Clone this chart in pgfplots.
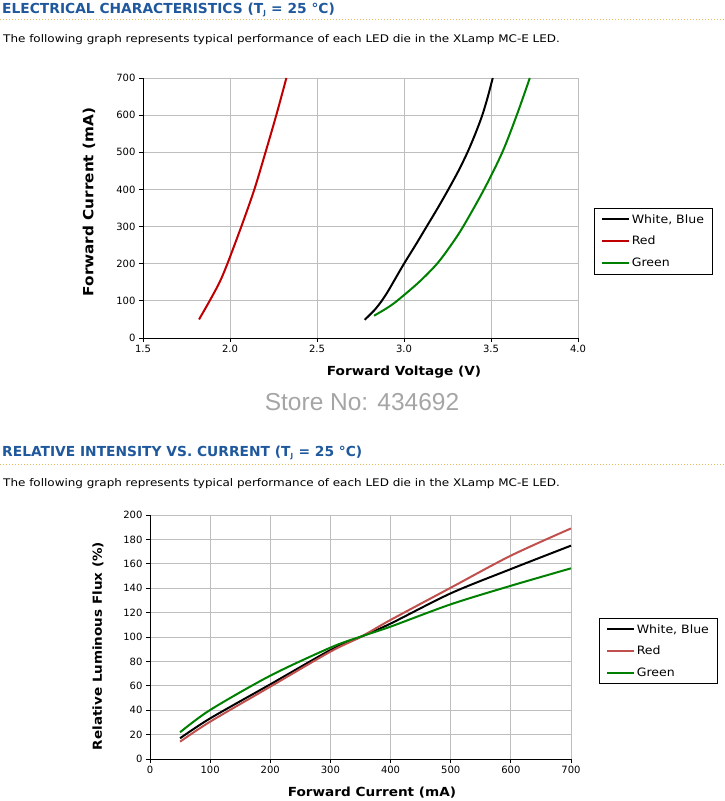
\documentclass[border=0pt]{standalone}
\usepackage{pgfplots}
\pgfplotsset{compat=1.18}
\usepackage{fontspec}
\setmainfont{DejaVu Sans}
\newfontfamily\wideA[FakeStretch=1.14]{DejaVu Sans}
\newfontfamily\wideB[FakeStretch=1.09]{DejaVu Sans}
\newfontfamily\arialfont{Liberation Sans}
\definecolor{headblue}{RGB}{31,88,156}
\definecolor{dotgold}{RGB}{226,186,90}
\definecolor{redA}{RGB}{192,0,0}
\definecolor{redB}{RGB}{192,80,77}
\definecolor{greenA}{RGB}{0,128,0}
\definecolor{gridgray}{RGB}{190,190,190}
\pgfplotsset{
  mystyle/.style={
    scale only axis,
    anchor=south west,
    axis x line*=bottom, axis y line*=left,
    axis line style={black, line width=1pt},
    tick align=outside,
    major tick length=4pt,
    tick style={black, line width=0.8pt},
    grid=major,
    major grid style={gridgray, line width=0.8pt},
    ticklabel style={font=\fontsize{10}{12}\selectfont},
    /pgf/number format/assume math mode=true,
    legend cell align=left,
    legend style={draw=black, line width=0.6pt, font=\wideB\fontsize{11.5}{12}\selectfont, anchor=north west, inner xsep=7pt, inner ysep=4.5pt, row sep=8.5pt, nodes={inner sep=1.5pt}, /tikz/every even column/.append style={column sep=0pt}},
    legend image code/.code={\draw[#1, line width=2pt] (0pt,0pt) -- (27pt,0pt);},
    clip=false,
  }
}
\begin{document}
\begin{tikzpicture}
\path[use as bounding box] (0,0) rectangle (724pt,-801pt);
% ---------- Section 1 header ----------
\node[anchor=west, text=headblue, font=\fontsize{13.8}{15}\selectfont\bfseries, inner sep=0pt] at (2pt,-10pt) {ELECTRICAL CHARACTERISTICS (T\textsubscript{\fontsize{7}{8}\selectfont J} = 25 \textdegree C)};
\draw[dotgold, line width=1pt, dash pattern=on 1pt off 2pt] (0pt,-19pt) -- (724pt,-19pt);
\node[anchor=west, font=\wideA\fontsize{10.5}{12}\selectfont, inner sep=0pt] at (3pt,-40pt) {The following graph represents typical performance of each LED die in the XLamp MC-E LED.};
% ---------- Chart 1 ----------
\begin{axis}[mystyle,
  at={(143pt,-338pt)}, width=435pt, height=260pt,
  xmin=1.5, xmax=4, ymin=0, ymax=700,
  xtick={1.5,2,2.5,3,3.5,4}, ytick={0,100,...,700},
  xticklabel style={/pgf/number format/.cd, fixed, fixed zerofill, precision=1},
  legend style={at={(axis description cs:1.0368,0.5)}},
]
\addplot[black, line width=2pt, smooth] coordinates {(2.774,49)(2.83,75)(2.872,100)(2.907,125)(2.938,150)(3.0,200)(3.066,250)(3.13,300)(3.194,350)(3.255,400)(3.313,450)(3.365,500)(3.41,550)(3.45,600)(3.482,650)(3.51,700)};
\addlegendentry{White, Blue}
\addplot[redA, line width=2pt, smooth] coordinates {(1.822,50)(1.883,100)(1.94,150)(1.985,200)(2.065,300)(2.14,400)(2.204,500)(2.266,600)(2.324,700)};
\addlegendentry{Red}
\addplot[greenA, line width=2pt, smooth] coordinates {(2.828,60)(2.90,80)(2.96,100)(3.085,150)(3.19,200)(3.27,250)(3.34,300)(3.46,400)(3.565,500)(3.648,600)(3.723,700)};
\addlegendentry{Green}
\end{axis}
\node[rotate=90, font=\wideB\fontsize{14}{16}\selectfont\bfseries] at (89pt,-202pt) {Forward Current (mA)};
\node[font=\wideB\fontsize{12.5}{14}\selectfont\bfseries] at (404pt,-372pt) {Forward Voltage (V)};
% watermark
\node[text={rgb,255:red,165;green,165;blue,165}, font=\arialfont\fontsize{24.5}{27}\selectfont] at (362pt,-402pt) {Store No: 434692};
% ---------- Section 2 header ----------
\node[anchor=west, text=headblue, font=\fontsize{13.8}{15}\selectfont\bfseries, inner sep=0pt] at (2pt,-453pt) {RELATIVE INTENSITY VS. CURRENT (T\textsubscript{\fontsize{7}{8}\selectfont J} = 25 \textdegree C)};
\draw[dotgold, line width=1pt, dash pattern=on 1pt off 2pt] (0pt,-464pt) -- (724pt,-464pt);
\node[anchor=west, font=\wideA\fontsize{10.5}{12}\selectfont, inner sep=0pt] at (3pt,-484pt) {The following graph represents typical performance of each LED die in the XLamp MC-E LED.};
% ---------- Chart 2 ----------
\begin{axis}[mystyle,
  at={(150pt,-759pt)}, width=421pt, height=244pt,
  xmin=0, xmax=700, ymin=0, ymax=200,
  xtick={0,100,...,700}, ytick={0,20,...,200},
  legend style={at={(axis description cs:1.0665,0.578)}},
]
\addplot[black, line width=2pt, smooth] coordinates {(50,17)(100,33.3)(200,61.2)(300,89.3)(350,100)(400,111)(500,135.8)(600,155.7)(700,174.9)};
\addlegendentry{White, Blue}
\addplot[redB, line width=2pt, smooth] coordinates {(50,14.2)(100,30.6)(200,59.3)(300,88)(350,100)(400,114)(500,140.4)(600,166.7)(700,189)};
\addlegendentry{Red}
\addplot[greenA, line width=2pt, smooth] coordinates {(50,21.9)(100,40.2)(200,68.3)(300,91.3)(350,100.3)(400,108.5)(500,126.8)(600,142)(700,156.3)};
\addlegendentry{Green}
\end{axis}
\node[rotate=90, font=\wideB\fontsize{12.4}{14}\selectfont\bfseries] at (98pt,-646pt) {Relative Luminous Flux (\%)};
\node[font=\wideB\fontsize{12.5}{14}\selectfont\bfseries] at (372pt,-793pt) {Forward Current (mA)};
\end{tikzpicture}
\end{document}
